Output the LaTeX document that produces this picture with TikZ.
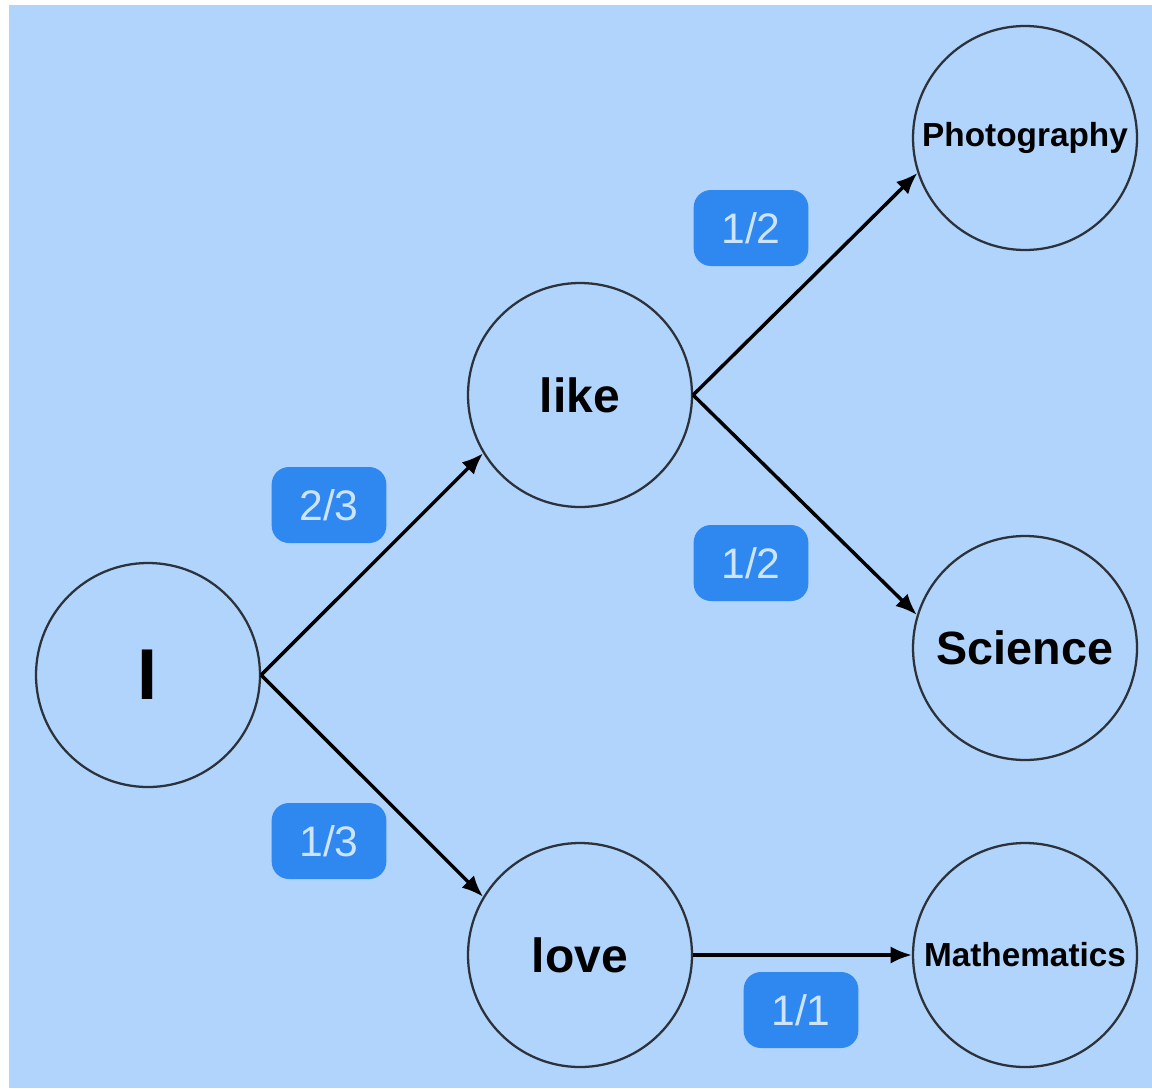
\documentclass[tikz,border=0pt]{standalone}
\usepackage{fontspec}
\setmainfont{Liberation Sans}
\usetikzlibrary{arrows.meta}
\definecolor{bgblue}{RGB}{176,212,251}
\definecolor{tagblue}{RGB}{47,135,240}
\definecolor{tagtext}{RGB}{205,228,255}
\definecolor{ringgray}{RGB}{45,50,58}
\tikzset{
  word/.style={circle, draw=ringgray, line width=1.7pt, minimum size=168pt, inner sep=0pt, font=\bfseries},
  prob/.style={rounded corners=13pt, fill=tagblue, text=tagtext, minimum width=86pt, minimum height=57pt, inner sep=0pt, font=\fontsize{32}{36}\selectfont},
  link/.style={line width=2.6pt, -{Latex[length=16pt, width=13pt]}}
}
\begin{document}
\begin{tikzpicture}[x=0.75pt, y=-0.75pt]
  \useasboundingbox (0,0) rectangle (1152,1088);
  \fill[white] (0,0) rectangle (1152,1088);
  \fill[bgblue] (9,5) rectangle (1152,1088);

  % words
  \node[word, font=\bfseries\fontsize{54}{60}\selectfont] (I) at (148,675) {I};
  \node[word, font=\bfseries\fontsize{36}{40}\selectfont] (like) at (580,395) {like};
  \node[word, font=\bfseries\fontsize{36}{40}\selectfont] (love) at (580,955) {love};
  \node[word, font=\bfseries\fontsize{25}{30}\selectfont] (photo) at (1025,138) {Photography};
  \node[word, font=\bfseries\fontsize{35}{40}\selectfont] (sci) at (1025,648) {Science};
  \node[word, font=\bfseries\fontsize{25}{30}\selectfont] (math) at (1025,955) {Mathematics};

  % transitions
  \draw[link] (I.east) -- (like.211);
  \draw[link] (I.east) -- (love.149);
  \draw[link] (like.east) -- (photo.198);
  \draw[link] (like.east) -- (sci.163);
  \draw[link] (love.east) -- (math.west);

  % probabilities
  \node[prob] (p1) at (329,505) {2/3};
  \node[prob] (p2) at (329,841) {1/3};
  \node[prob] (p3) at (751,228) {1/2};
  \node[prob] (p4) at (751,563) {1/2};
  \node[prob] (p5) at (801,1010) {1/1};
\end{tikzpicture}
\end{document}
